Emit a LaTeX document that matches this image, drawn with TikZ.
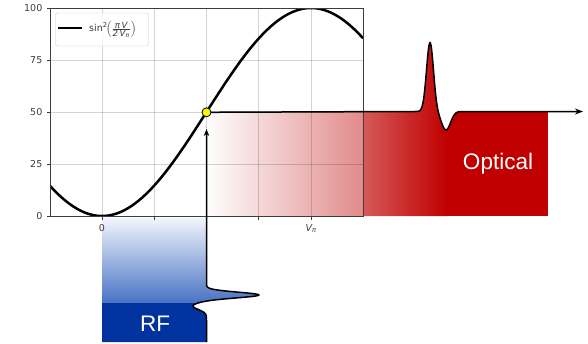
\documentclass[tikz,border=0pt]{standalone}
\usepackage{fontspec}
\usepackage{amsmath}
\setmainfont{Liberation Sans}
\newfontfamily\mplfont{DejaVu Sans}
\usetikzlibrary{arrows.meta}
\definecolor{optred}{RGB}{192,0,0}
\definecolor{rfblue}{RGB}{0,51,160}
\definecolor{rfmid}{RGB}{72,114,196}
\definecolor{rftop}{RGB}{242,245,252}
\definecolor{spinegray}{RGB}{60,60,60}
\definecolor{ticktext}{RGB}{60,60,60}
\newcommand{\fracpart}[1]{\mbox{\mplfont\fontsize{8.6}{9.5}\selectfont\itshape #1}}
\begin{document}
\begin{tikzpicture}[x=1pt,y=-1pt,
  declare function={
    optpulse(\t)=111.5-69*exp(-(\t-430)*(\t-430)/24)+18.5*exp(-(\t-446)*(\t-446)/40);
    rfx(\t)=206.5+52.5*exp(-(\t-295)*(\t-295)/16)-13.5*exp(-(\t-306)*(\t-306)/25);
  },
  gridline/.style={black,opacity=0.17,line width=0.9pt},
  spine/.style={spinegray,line width=0.9pt},
  ticklabel/.style={text=ticktext,font=\mplfont\fontsize{9.5}{11}\selectfont,inner sep=0pt},
  signal/.style={black,line width=1.5pt},
  bigtext/.style={text=white,font=\fontsize{22.5}{26}\selectfont,inner sep=0pt},
]
\useasboundingbox (0,0) rectangle (588,343);

% named points
\coordinate (dot) at (206.5,112.3);
\coordinate (oend) at (583,111.5);
\coordinate (rfstart) at (206.5,342);
\coordinate (rftip) at (206.5,129);

% red optical region
\begin{scope}
  \clip (206.5,216) -- (206.5,111.5) -- (405,111.5)
    -- plot[domain=405:480,samples=120] (\x,{optpulse(\x)})
    -- (548,111.5) -- (548,216) -- cycle;
  \fill[left color=white,right color=optred] (206.5,30) rectangle (447,216);
  \fill[optred] (447,30) rectangle (548,216);
\end{scope}

% blue RF region
\fill[top color=rftop,bottom color=rfmid] (102,218) -- (206.5,218) -- (206.5,275)
  -- plot[domain=275:303,samples=80] ({rfx(\x)},\x) -- (102,303) -- cycle;
\fill[rfblue] (102,303) -- plot[domain=303:342,samples=80] ({rfx(\x)},\x) -- (102,342) -- cycle;

% semi-transparent plot background
\fill[white,opacity=0.3] (50,8) rectangle (363,216);

% grid
\foreach \v in {0,0.25,0.5,0.75,1}{
  \draw[gridline] ({102+209*\v},8) -- ({102+209*\v},216);
  \draw[spine] ({102+209*\v},216) -- ({102+209*\v},219.5);
}
\foreach \p in {25,50,75}{
  \draw[gridline] (50,{216-2.08*\p}) -- (363,{216-2.08*\p});
}
\foreach \p in {0,25,50,75,100}{
  \draw[spine] (46.5,{216-2.08*\p}) -- (50,{216-2.08*\p});
  \node[ticklabel,anchor=east] (yl\p) at (42.5,{216-2.08*\p}) {\p};
}
\node[ticklabel] (xl0) at (102,228.5) {0};
\node[ticklabel] (xlpi) at (311,229) {$\textit{V}_{\textit{π}}$};

% transfer curve
\begin{scope}
  \clip (50,8) rectangle (363,216);
  \draw[black,line width=2.5pt] plot[domain=-0.25:1.25,samples=160]
    ({102+209*\x},{216-208*sin(90*\x)*sin(90*\x)});
\end{scope}

% spines
\draw[spine] (50,8) rectangle (363,216);

% legend
\draw[rounded corners=2pt,draw=black!20,fill=white,fill opacity=0.8] (55.5,13) rectangle (148.5,46);
\draw[black,line width=2.5pt] (58,28) -- (82,28);
\node[anchor=west,inner sep=0pt,text=ticktext] (leg) at (89,29.5)
  {\mplfont\fontsize{9.5}{11}\selectfont sin\textsuperscript{2}$\!\left(\frac{\fracpart{π\,V}}{\fracpart{2\,V\textsubscript{π}}}\right)$};

% optical signal
\draw[signal,-{Stealth[length=8pt,width=6pt]}] (dot) -- (405,111.5)
  -- plot[domain=405:480,samples=120] (\x,{optpulse(\x)}) -- (oend);

% RF signal
\draw[signal,-{Stealth[length=7pt,width=5.5pt]}] (rfstart) -- (206.5,325)
  -- plot[domain=325:275,samples=120] ({rfx(\x)},\x) -- (rftip);

% operating point
\node[circle,fill=yellow,draw=black,line width=0.8pt,minimum size=9pt,inner sep=0pt] (op) at (dot) {};

% labels
\node[bigtext] (optlabel) at (498,164) {Optical};
\node[bigtext] (rflabel) at (155,323.5) {RF};
\end{tikzpicture}
\end{document}
